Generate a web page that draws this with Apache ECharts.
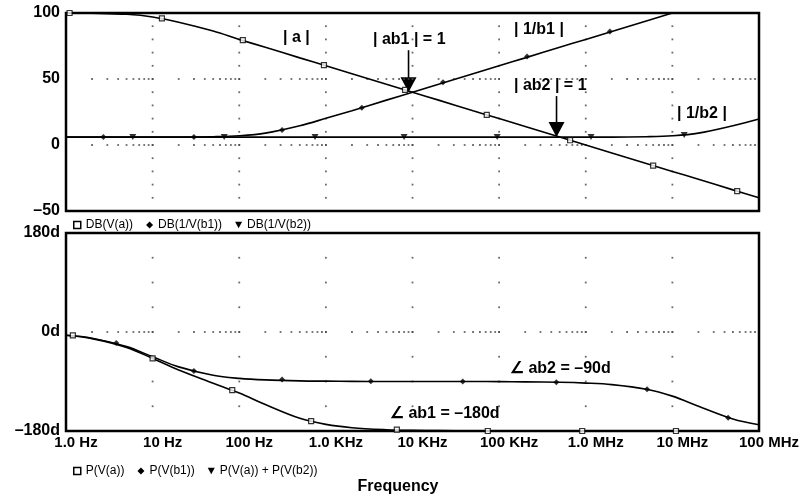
<!DOCTYPE html>
<html lang="en">
<head>
<meta charset="utf-8">
<title>Loop gain magnitude and phase</title>
</head>
<body style="margin: 0; background: #fff">
<div id="container" style="width: 810px; height: 497px"></div>

<script type="text/javascript" src="https://cdn.jsdelivr.net/npm/echarts@6/dist/echarts.min.js"></script>

<script type="text/javascript">

// frequency points (Hz) shared by all curves
var freqs = [1, 2, 5, 10, 20, 50, 100, 200, 500, 1e3, 2e3, 5e3, 1e4, 2e4, 5e4,
             1e5, 2e5, 5e5, 1e6, 2e6, 5e6, 1e7, 2e7, 5e7, 1e8];

// magnitude curves (dB)
var magA     = [100, 99.8, 99, 97, 93, 86.3, 80, 74, 66, 60, 54, 46, 40, 34, 26,
                20, 14, 6, 0, -6, -14, -20, -26, -34, -40];
var magInvB1 = [6, 6, 6, 6, 6, 6.3, 7, 9, 14.6, 20.2, 26, 34, 40, 46, 54,
                60, 66, 74, 80, 86, 94, 100, 106, 114, 120];
var magInvB2 = [6, 6, 6, 6, 6, 6, 6, 6, 6, 6, 6, 6, 6, 6, 6,
                6, 6, 6, 6, 6, 6.3, 7, 9, 14.6, 19.7];

// phase curves (deg)
var phaseAB1 = [-6, -12, -28, -48, -69, -93, -111, -132, -157, -168, -174, -177.6, -178.8, -179.4, -179.8,
                -180, -180, -180, -180, -180, -180, -180, -180, -180, -180];
var phaseAB2 = [-6, -11.3, -26.6, -45, -63.4, -78.7, -84.3, -87.1, -88.9, -89.4, -89.7, -90, -90, -90, -90,
                -90.3, -90.6, -91.4, -92.9, -95.7, -104, -116.6, -135, -158.2, -168.7];

// marker points along the traces
var aMarkF   = [1.1, 12.8, 110, 950, 8200, 72e3, 660e3, 6e6, 56e6];
var aMarkDb  = [100, 96, 79.5, 60.5, 41.7, 22.8, 3.6, -15.6, -35];
var b1MarkF  = [2.7, 30, 312, 2600, 22.5e3, 210e3, 1.9e6];
var b1MarkDb = [6, 6, 11.4, 28.3, 47.5, 67, 86];
var b2MarkF  = [5.9, 67, 750, 8000, 95e3, 1.15e6, 13.7e6];
var b2MarkDb = [6, 6, 6, 6, 6, 6, 7.6];
var p1MarkF  = [1.2, 10, 83, 676, 6600, 74e3, 910e3, 11e6];
var p1MarkDeg = [-6, -48, -105.5, -162, -177.5, -180, -180, -180];
var p2MarkF  = [3.8, 30, 312, 3300, 38e3, 457e3, 5.1e6, 44e6];
var p2MarkDeg = [-20, -71, -86.5, -89.5, -90, -91.5, -104, -156];

// axis tick labels
var freqLabels = ['1.0 Hz', '10 Hz', '100 Hz', '1.0 KHz', '10 KHz', '100 KHz', '1.0 MHz', '10 MHz', '100 MHz'];
var dbTicks = [-50, 0, 50, 100];
var dbTickLabels = ['\u201350', '0', '50', '100'];
var degTicks = [-180, 0, 180];
var degTickLabels = ['\u2013180d', '0d', '180d'];

var FONT = '"Liberation Sans", Arial, Helvetica, sans-serif';
var triDown = 'path://M0,0L10,0L5,9Z';

function zip(xs, ys) {
  return xs.map(function (x, i) { return [x, ys[i]]; });
}

// dotted grid pattern: dots along decades and along a few horizontal levels
function gridDots(levels, vSteps) {
  var pts = [];
  for (var d = 0; d < 8; d++) {
    for (var k = 2; k <= 10; k++) {
      var f = k * Math.pow(10, d);
      if (f >= 1e8) continue;
      levels.forEach(function (y) { pts.push([f, y]); });
    }
  }
  for (var e = 1; e < 8; e++) {
    vSteps.forEach(function (y) { pts.push([Math.pow(10, e), y]); });
  }
  return pts;
}

var dbSteps = [];
for (var v = -40; v <= 90; v += 10) dbSteps.push(v);
var degSteps = [-135, -90, -45, 0, 45, 90, 135];

var dom = document.getElementById('container');
var myChart = echarts.init(dom);

function curve(name, xi, data) {
  return {
    name: name, type: 'line', xAxisIndex: xi, yAxisIndex: xi,
    data: data, symbol: 'none', smooth: 0.35,
    lineStyle: {color: '#000', width: 1.6}, itemStyle: {color: '#000'},
    z: 3
  };
}
function marks(name, xi, data, symbol, size, hollow) {
  return {
    name: name, type: 'scatter', xAxisIndex: xi, yAxisIndex: xi,
    data: data, symbol: symbol, symbolSize: size, silent: true,
    itemStyle: hollow ? {color: '#fff', borderColor: '#000', borderWidth: 1.2} : {color: '#000'},
    z: 4
  };
}
function dots(xi, data) {
  return {
    type: 'scatter', xAxisIndex: xi, yAxisIndex: xi, data: data,
    symbol: 'rect', symbolSize: 1.8, silent: true,
    itemStyle: {color: '#444'}, z: 1
  };
}

var xBase = {
  type: 'log', logBase: 10, min: 1, max: 1e8, splitNumber: 8,
  axisLine: {show: false}, axisTick: {show: false}, splitLine: {show: false}
};

option = {
  animation: false,
  grid: [
    {left: 66, right: 51, top: 13, height: 198, show: true, borderColor: '#000', borderWidth: 2.5},
    {left: 66, right: 51, top: 233, height: 198, show: true, borderColor: '#000', borderWidth: 2.5}
  ],
  xAxis: [
    Object.assign({gridIndex: 0, axisLabel: {show: false}}, xBase),
    Object.assign({gridIndex: 1, axisLabel: {
      margin: 4, fontSize: 15, fontWeight: 'bold', color: '#000', fontFamily: FONT,
      padding: [0, 0, 0, 20],
      formatter: function (val) { return freqLabels[Math.round(Math.log10(val))]; }
    }}, xBase)
  ],
  yAxis: [
    {gridIndex: 0, type: 'value', min: -50, max: 100, interval: 50,
     axisLine: {show: false}, axisTick: {show: false}, splitLine: {show: false},
     axisLabel: {margin: 6, fontSize: 16, fontWeight: 'bold', color: '#000', fontFamily: FONT,
       formatter: function (val) { return dbTickLabels[dbTicks.indexOf(val)]; }}},
    {gridIndex: 1, type: 'value', min: -180, max: 180, interval: 180,
     axisLine: {show: false}, axisTick: {show: false}, splitLine: {show: false},
     axisLabel: {margin: 6, fontSize: 16, fontWeight: 'bold', color: '#000', fontFamily: FONT,
       formatter: function (val) { return degTickLabels[degTicks.indexOf(val)]; }}}
  ],
  legend: [
    {top: 214, left: 68, itemWidth: 7, itemHeight: 7, itemGap: 13, selectedMode: false,
     textStyle: {fontSize: 12, color: '#000', fontFamily: FONT},
     data: [
       {name: 'DB(V(a))', icon: 'rect', itemStyle: {color: '#fff', borderColor: '#000', borderWidth: 1.5}},
       {name: 'DB(1/V(b1))', icon: 'diamond', itemStyle: {color: '#000'}},
       {name: 'DB(1/V(b2))', icon: triDown, itemStyle: {color: '#000'}}
     ]},
    {top: 460, left: 68, itemWidth: 7, itemHeight: 7, itemGap: 13, selectedMode: false,
     textStyle: {fontSize: 12, color: '#000', fontFamily: FONT},
     data: [
       {name: 'P(V(a))', icon: 'rect', itemStyle: {color: '#fff', borderColor: '#000', borderWidth: 1.5}},
       {name: 'P(V(b1))', icon: 'diamond', itemStyle: {color: '#000'}},
       {name: 'P(V(a)) + P(V(b2))', icon: triDown, itemStyle: {color: '#000'}}
     ]}
  ],
  series: [
    dots(0, gridDots([50, 0], dbSteps)),
    dots(1, gridDots([0], degSteps)),
    curve('DB(V(a))', 0, zip(freqs, magA)),
    marks('DB(V(a))', 0, zip(aMarkF, aMarkDb), 'rect', 5, true),
    curve('DB(1/V(b1))', 0, zip(freqs, magInvB1)),
    marks('DB(1/V(b1))', 0, zip(b1MarkF, b1MarkDb), 'diamond', 6, false),
    curve('DB(1/V(b2))', 0, zip(freqs, magInvB2)),
    marks('DB(1/V(b2))', 0, zip(b2MarkF, b2MarkDb), triDown, [7, 6], false),
    curve('P(V(a))', 1, zip(freqs, phaseAB1)),
    marks('P(V(a))', 1, zip(p1MarkF, p1MarkDeg), 'rect', 5, true),
    curve('P(V(b1))', 1, zip(freqs, phaseAB2)),
    marks('P(V(b1))', 1, zip(p2MarkF, p2MarkDeg), 'diamond', 6, false),
    curve('P(V(a)) + P(V(b2))', 1, [])
  ]
};

if (option && typeof option === 'object') {
  myChart.setOption(option);
}

// annotations: labels and arrows pointing at the |ab| = 1 crossings
function label(text, x, y, size) {
  return {
    type: 'text', x: x, y: y, z: 10,
    style: {text: text, font: 'bold ' + (size || 16) + 'px ' + FONT, fill: '#000',
            textVerticalAlign: 'middle'}
  };
}
function arrow(pt, len) {
  var x = pt[0], y = pt[1];
  return {
    type: 'group', z: 10, children: [
      {type: 'line', shape: {x1: x, y1: y - len, x2: x, y2: y - 12}, style: {stroke: '#000', lineWidth: 1.6}},
      {type: 'polygon', shape: {points: [[x - 8, y - 15], [x + 8, y - 15], [x, y]]}, style: {fill: '#000'}}
    ]
  };
}
var ab1Pt = myChart.convertToPixel({gridIndex: 0}, [9000, 40]);
var ab2Pt = myChart.convertToPixel({gridIndex: 0}, [4.6e5, 6]);

myChart.setOption({
  graphic: [
    label('| a |', 283, 38),
    label('| ab1 | = 1', 373, 40),
    label('| 1/b1 |', 514, 30),
    label('| ab2 | = 1', 514, 86),
    label('| 1/b2 |', 677, 114),
    arrow(ab1Pt, 42),
    arrow(ab2Pt, 41),
    label('\u2220 ab2 = \u201390d', 510, 369),
    label('\u2220 ab1 = \u2013180d', 390, 414),
    {type: 'text', x: 398, y: 487, z: 10,
     style: {text: 'Frequency', font: 'bold 16px ' + FONT, fill: '#000',
             textAlign: 'center', textVerticalAlign: 'middle'}}
  ]
});

window.addEventListener('resize', myChart.resize);
</script>
</body>
</html>
